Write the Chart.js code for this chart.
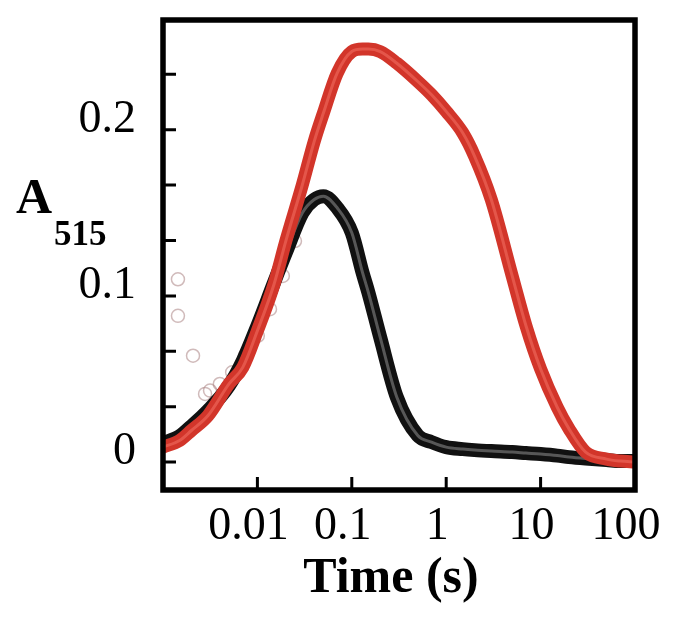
<!DOCTYPE html>
<html>
<head>
<meta charset="utf-8">
<script src="https://cdn.jsdelivr.net/npm/chart.js@4.4.1/dist/chart.umd.min.js"></script>
<style>
  html, body { margin: 0; padding: 0; background: #fff; }
</style>
</head>
<body>
<canvas id="myChart" width="689" height="625"></canvas>
<script>
// time points (s), log spaced
const times = [0.001, 0.0015, 0.002, 0.003, 0.005, 0.007, 0.01, 0.015, 0.02, 0.03, 0.04, 0.05,
  0.07, 0.1, 0.13, 0.15, 0.2, 0.3, 0.5, 0.7, 1, 1.5, 2, 3, 5, 7, 10, 15, 20, 30, 50, 70, 100];

// A515, black trace
const blackVals = [0.0114, 0.0156, 0.0216, 0.031, 0.046, 0.061, 0.082, 0.108, 0.126, 0.150, 0.158, 0.160,
  0.153, 0.138, 0.114, 0.102, 0.075, 0.039, 0.016, 0.012, 0.009, 0.0078, 0.0072, 0.0066, 0.006, 0.0054,
  0.0048, 0.0039, 0.003, 0.0021, 0.0012, 0.0006, 0.0006];

// A515, red trace
const redVals = [0.009, 0.013, 0.019, 0.028, 0.047, 0.057, 0.079, 0.107, 0.133, 0.167, 0.193, 0.210,
  0.234, 0.247, 0.2485, 0.2485, 0.247, 0.240, 0.229, 0.221, 0.211, 0.198, 0.184, 0.158, 0.112, 0.082,
  0.056, 0.033, 0.020, 0.006, 0.0018, 0.0006, 0];

// early scattered points (open circles)
const earlyTimes = [0.00144, 0.00144, 0.00208, 0.00279, 0.00315, 0.0040, 0.0054, 0.0074, 0.0101, 0.0136, 0.0186, 0.025];
const earlyVals = [0.110, 0.088, 0.064, 0.041, 0.043, 0.047, 0.054, 0.064, 0.076, 0.092, 0.112, 0.133];

const xTicks = [0.001, 0.01, 0.1, 1, 10, 100];
const xTickLabels = ["", "0.01", "0.1", "1", "10", "100"];
const yTicks = [0, 0.0333, 0.0667, 0.1, 0.1333, 0.1667, 0.2, 0.2333];
const yTickLabels = ["0", "", "", "0.1", "", "", "0.2", ""];

const toPoints = (xs, ys) => xs.map((x, i) => ({ x: x, y: ys[i] }));

const frameAndTicks = {
  id: "frameAndTicks",
  afterDatasetsDraw(chart) {
    const { ctx, chartArea: a, scales } = chart;
    ctx.save();
    ctx.strokeStyle = "#000";
    ctx.lineCap = "butt";
    // inward ticks
    ctx.lineWidth = 3;
    ctx.beginPath();
    xTicks.forEach((t) => {
      const px = scales.x.getPixelForValue(t);
      ctx.moveTo(px, a.bottom);
      ctx.lineTo(px, a.bottom - 13);
    });
    yTicks.forEach((t) => {
      const py = scales.y.getPixelForValue(t);
      ctx.moveTo(a.left, py);
      ctx.lineTo(a.left + 13, py);
    });
    ctx.stroke();
    // frame
    ctx.lineWidth = 5.5;
    ctx.strokeRect(a.left, a.top, a.right - a.left, a.bottom - a.top);

    // axis titles
    ctx.fillStyle = "#000";
    ctx.textBaseline = "alphabetic";
    ctx.textAlign = "center";
    ctx.font = "bold 50px 'Liberation Serif', 'Times New Roman', serif";
    ctx.fillText("Time (s)", 391, 592);
    ctx.textAlign = "left";
    ctx.fillText("A", 16, 213);
    ctx.font = "bold 35px 'Liberation Serif', 'Times New Roman', serif";
    ctx.fillText("515", 54, 245);
    ctx.restore();
  },
};

const ctx = document.querySelector("#myChart").getContext("2d");

new Chart(ctx, {
  type: "line",
  data: {
    datasets: [
      {
        label: "early",
        data: toPoints(earlyTimes, earlyVals),
        showLine: false,
        pointRadius: 6.5,
        pointBorderWidth: 1.5,
        pointBackgroundColor: "rgba(0,0,0,0)",
        pointBorderColor: "rgba(170,130,130,0.55)",
        order: 5,
      },
      {
        label: "red inner",
        data: toPoints(times, redVals),
        borderColor: "rgba(232,92,80,0.85)",
        borderWidth: 3,
        pointRadius: 0,
        cubicInterpolationMode: "monotone",
        order: 0,
      },
      {
        label: "red",
        data: toPoints(times, redVals),
        borderColor: "#d2352a",
        borderWidth: 13,
        pointRadius: 0,
        cubicInterpolationMode: "monotone",
        order: 1,
      },
      {
        label: "black inner",
        data: toPoints(times, blackVals),
        borderColor: "rgba(105,105,105,0.8)",
        borderWidth: 3,
        pointRadius: 0,
        cubicInterpolationMode: "monotone",
        order: 2,
      },
      {
        label: "black",
        data: toPoints(times, blackVals),
        borderColor: "#111111",
        borderWidth: 14,
        pointRadius: 0,
        cubicInterpolationMode: "monotone",
        order: 3,
      },
    ],
  },
  options: {
    responsive: false,
    animation: false,
    layout: { padding: { top: 20, right: 54, left: 0, bottom: 0 } },
    plugins: {
      legend: { display: false },
      tooltip: { enabled: false },
    },
    scales: {
      x: {
        type: "logarithmic",
        min: 0.001,
        max: 100,
        grid: { display: false },
        border: { display: false },
        afterBuildTicks: (scale) => {
          scale.ticks = xTicks.map((v) => ({ value: v }));
        },
        afterFit: (scale) => {
          scale.height = 135;
          scale.paddingLeft = 0;
          scale.paddingRight = 0;
        },
        ticks: {
          autoSkip: false,
          maxRotation: 0,
          padding: 1,
          labelOffset: -9,
          color: "#000",
          font: { family: "'Liberation Serif', 'Times New Roman', serif", size: 46 },
          callback: (v, i) => xTickLabels[i],
        },
      },
      y: {
        min: -0.0168,
        max: 0.266,
        grid: { display: false },
        border: { display: false },
        afterBuildTicks: (scale) => {
          scale.ticks = yTicks.map((v) => ({ value: v }));
        },
        afterFit: (scale) => {
          scale.width = 163;
          scale.paddingTop = 0;
          scale.paddingBottom = 0;
        },
        ticks: {
          autoSkip: false,
          padding: 19,
          labelOffset: -10,
          color: "#000",
          font: { family: "'Liberation Serif', 'Times New Roman', serif", size: 46 },
          callback: (v, i) => yTickLabels[i],
        },
      },
    },
  },
  plugins: [frameAndTicks],
});
</script>
</body>
</html>
